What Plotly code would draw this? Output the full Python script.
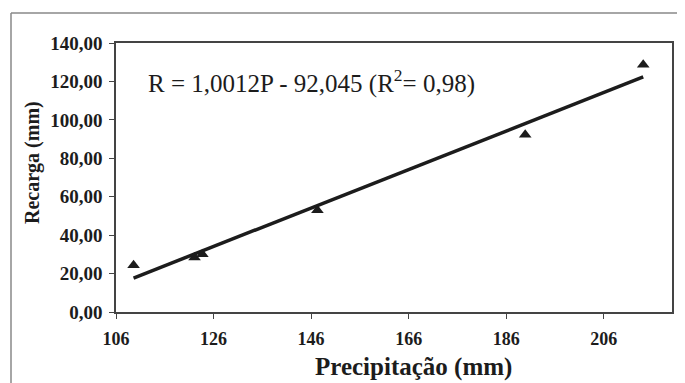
import plotly.graph_objects as go

precipitacao = [109.6, 122.1, 123.7, 147.3, 189.9, 214.1]
recarga = [24.3, 28.3, 30.1, 53.0, 92.2, 128.7]
slope = 1.0012
intercept = -92.045
x_ticks = [106, 126, 146, 166, 186, 206]
y_ticks = [0, 20, 40, 60, 80, 100, 120, 140]

fit_x = [min(precipitacao), max(precipitacao)]
fit_y = [slope * v + intercept for v in fit_x]

# page body has an 8px margin: shrink figure so it ends at the window edge
OFF = 8
W, H = 685 - OFF, 383 - OFF
L, R, T, B = 116 - OFF, 13, 43 - OFF, 71
pw, ph = W - L - R, H - T - B

def px(xpix):
    return (xpix - OFF - L) / pw

def py(ypix):
    return (H - B - (ypix - OFF)) / ph

serif = "Liberation Serif"
ink = "#1c1c1c"

fig = go.Figure()
fig.add_trace(go.Scatter(x=fit_x, y=fit_y, mode="lines",
                         line=dict(color=ink, width=3.5), showlegend=False))
fig.add_trace(go.Scatter(x=precipitacao, y=recarga, mode="markers",
                         marker=dict(symbol="triangle-up", size=11, color=ink),
                         showlegend=False))

fig.update_layout(
    width=W, height=H,
    margin=dict(l=L, r=R, t=T, b=B, autoexpand=False),
    paper_bgcolor="white", plot_bgcolor="white",
    font=dict(family=serif, color=ink, size=18),
    xaxis=dict(range=[106, 220], tickvals=x_ticks,
               ticktext=["<b>%d</b>" % v for v in x_ticks],
               showgrid=False, zeroline=False, showline=True, linecolor="#444",
               linewidth=1.5, mirror=True, ticks="outside", ticklen=5, tickcolor="#444",
               ticklabelstandoff=5, tickfont=dict(family=serif, size=18, color=ink)),
    yaxis=dict(range=[0, 140], tickvals=y_ticks,
               ticktext=["<b>" + ("%.2f" % v).replace(".", ",") + "</b>" for v in y_ticks],
               showgrid=False, zeroline=False, showline=True, linecolor="#444",
               linewidth=1.5, mirror=True, ticks="outside", ticklen=5, tickcolor="#444",
               ticklabelstandoff=3, tickfont=dict(family=serif, size=19, color=ink)),
    shapes=[
        dict(type="line", xref="paper", yref="paper", x0=px(11), x1=px(700),
             y0=py(13), y1=py(13), line=dict(color="#888", width=1.5)),
        dict(type="line", xref="paper", yref="paper", x0=px(11), x1=px(11),
             y0=py(13), y1=py(400), line=dict(color="#888", width=1.5)),
    ],
    annotations=[
        dict(text="R = 1,0012P - 92,045 (R<sup>2</sup>= 0,98)", xref="paper", yref="paper",
             x=px(146), y=py(81), xanchor="left", yanchor="middle", showarrow=False,
             font=dict(family=serif, size=25, color=ink)),
        dict(text="<b>Precipitação (mm)</b>", xref="paper", yref="paper",
             x=px(413), y=py(367), xanchor="center", yanchor="middle", showarrow=False,
             font=dict(family=serif, size=25, color=ink)),
        dict(text="<b>Recarga (mm)</b>", xref="paper", yref="paper",
             x=px(32), y=py(163), xanchor="center", yanchor="middle", showarrow=False,
             textangle=-90, font=dict(family=serif, size=20, color=ink)),
    ],
)

fig.write_html("out.html")
